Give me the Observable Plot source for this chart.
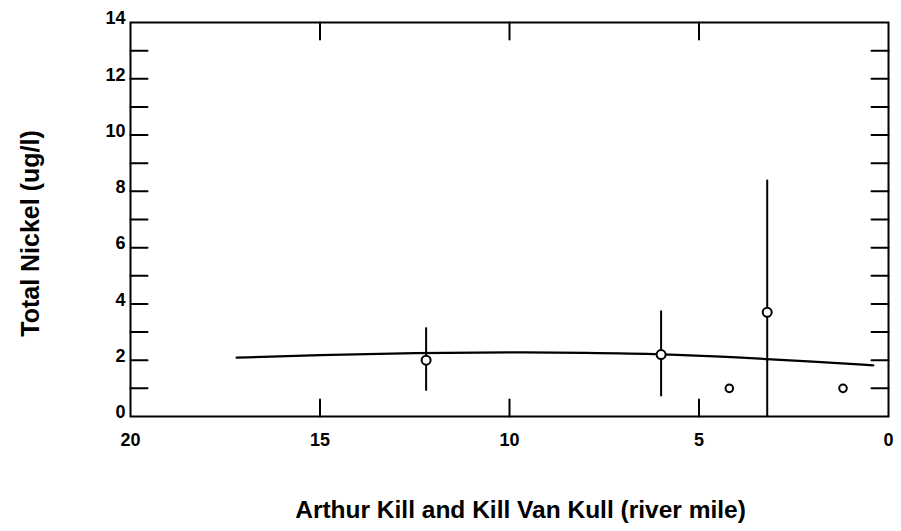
<!DOCTYPE html>
<html><head><meta charset="utf-8">
<script src="https://cdn.jsdelivr.net/npm/d3@7"></script>
<script src="https://cdn.jsdelivr.net/npm/@observablehq/plot@0.6"></script>
<style>body{margin:0;background:#fff} svg{display:block}</style>
</head><body><div id="chart"></div>
<script>
// Observations (river mile, total nickel ug/l)
const obsMile  = [12.2, 6.0, 4.2, 3.2, 1.2];
const obsValue = [2.0, 2.2, 1.0, 3.7, 1.0];
const obsLow   = [0.9, 0.7, null, 0.0, null];
const obsHigh  = [3.15, 3.75, null, 8.4, null];
const obsKind  = ["bar", "bar", "single", "bar", "single"];
// Fitted curve
const fitMile  = [17.2, 15, 12.5, 10, 8, 6, 4, 2, 0.4];
const fitValue = [2.09, 2.18, 2.25, 2.28, 2.26, 2.21, 2.1, 1.95, 1.82];
// Axis ticks
const xLabelTicks = [20, 15, 10, 5, 0];
const xInnerTicks = [15, 10, 5];
const yLabelTicks = [0, 2, 4, 6, 8, 10, 12, 14];
const yInnerTicks = [1, 2, 3, 4, 5, 6, 7, 8, 9, 10, 11, 12, 13];
const xTitle = "Arthur Kill and Kill Van Kull (river mile)";
const yTitle = "Total Nickel (ug/l)";

const obs = obsMile.map((m, i) => ({mile: m, value: obsValue[i], low: obsLow[i], high: obsHigh[i], kind: obsKind[i]}));
const fit = fitMile.map((m, i) => ({mile: m, value: fitValue[i]}));
const tickShape = {draw(context, l) { context.moveTo(0, 0); context.lineTo(0, -l); }};
const font = "'Liberation Sans', Arial, Helvetica, sans-serif";
const tickLen = 17;

const chart = Plot.plot({
  width: 901,
  height: 531,
  marginLeft: 130,
  marginRight: 13,
  marginTop: 22,
  marginBottom: 115,
  style: {fontFamily: font, background: "#fff", color: "#000"},
  x: {domain: [20, 0], axis: null},
  y: {domain: [0, 14], axis: null},
  marks: [
    Plot.frame({stroke: "#000", strokeWidth: 2}),
    Plot.vector(xInnerTicks, {x: d => d, frameAnchor: "bottom", length: tickLen, rotate: 0, anchor: "start", shape: tickShape, stroke: "#000", strokeWidth: 2}),
    Plot.vector(xInnerTicks, {x: d => d, frameAnchor: "top", length: tickLen, rotate: 180, anchor: "start", shape: tickShape, stroke: "#000", strokeWidth: 2}),
    Plot.vector(yInnerTicks, {y: d => d, frameAnchor: "left", length: tickLen, rotate: 90, anchor: "start", shape: tickShape, stroke: "#000", strokeWidth: 2}),
    Plot.vector(yInnerTicks, {y: d => d, frameAnchor: "right", length: tickLen, rotate: -90, anchor: "start", shape: tickShape, stroke: "#000", strokeWidth: 2}),
    Plot.text(xLabelTicks, {x: d => d, text: d => String(d), frameAnchor: "bottom", textAnchor: "middle", lineAnchor: "middle", dy: 24, fontSize: 18, fontWeight: "bold", fill: "#000"}),
    Plot.text(yLabelTicks, {y: d => d, text: d => String(d), frameAnchor: "left", textAnchor: "end", lineAnchor: "middle", dx: -5, dy: -4, fontSize: 18, fontWeight: "bold", fill: "#000"}),
    Plot.line(fit, {x: "mile", y: "value", curve: "monotone-x", stroke: "#000", strokeWidth: 2.2}),
    Plot.ruleX(obs.filter(d => d.kind === "bar"), {x: "mile", y1: "low", y2: "high", stroke: "#000", strokeWidth: 2}),
    Plot.dot(obs.filter(d => d.kind === "bar"), {x: "mile", y: "value", r: 4.5, fill: "#fff", stroke: "#000", strokeWidth: 2}),
    Plot.dot(obs.filter(d => d.kind === "single"), {x: "mile", y: "value", r: 3.8, fill: "#fff", stroke: "#000", strokeWidth: 2}),
    Plot.text([xTitle], {text: d => d, frameAnchor: "bottom", textAnchor: "middle", lineAnchor: "bottom", dx: 11, dy: 101, fontSize: 24.5, fontWeight: "bold", fill: "#000"}),
    Plot.text([yTitle], {text: d => d, frameAnchor: "left", textAnchor: "middle", lineAnchor: "middle", rotate: -90, dx: -100, dy: 14, fontSize: 25, fontWeight: "bold", fill: "#000"})
  ]
});
document.getElementById("chart").appendChild(chart);
</script>
</body></html>
